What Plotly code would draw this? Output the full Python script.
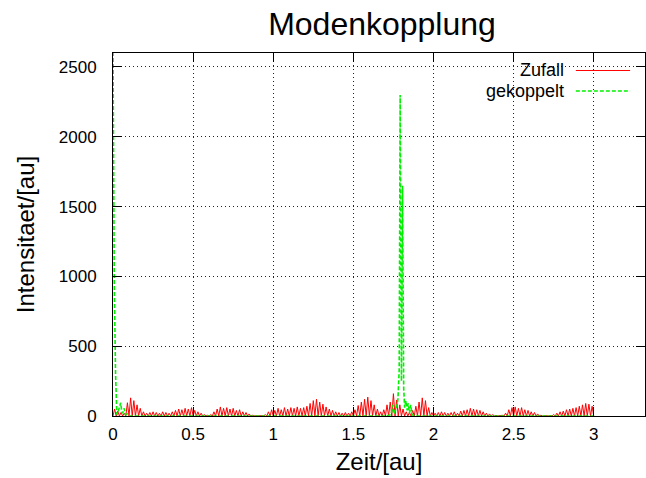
import numpy as np
import plotly.graph_objects as go

# --- data --------------------------------------------------------------
# "Zufall": crest heights of the fast oscillation, one crest every 0.02
# starting at t=0.01; the signal drops to ~0 between crests
zufall_dt = 0.02
zufall_peaks = [
    50, 35, 25, 20, 95, 130, 110, 80, 55, 30,
    20, 25, 30, 25, 20, 30, 25, 20, 30, 40,
    50, 45, 55, 50, 60, 40, 30, 20, 10, 5,
    10, 30, 50, 65, 55, 60, 50, 55, 40, 45,
    30, 25, 15, 5, 3, 2, 3, 10, 30, 45,
    40, 55, 45, 60, 50, 60, 55, 65, 55, 60,
    70, 90, 110, 120, 100, 85, 65, 50, 40, 30,
    25, 20, 25, 20, 30, 45, 75, 100, 120, 135,
    110, 80, 50, 30, 45, 80, 100, 160, 115, 80,
    50, 30, 25, 40, 70, 100, 130, 110, 60, 25,
    20, 25, 30, 25, 20, 25, 30, 20, 35, 40,
    45, 55, 50, 45, 40, 30, 20, 15, 10, 5,
    2, 5, 20, 45, 60, 65, 55, 60, 45, 40,
    30, 25, 15, 5, 2, 2, 3, 10, 20, 30,
    35, 45, 50, 55, 60, 70, 80, 90, 85, 70,
]

# "gekoppelt": mode-locked pulses at t=0 and t~1.8
gekoppelt_t = [
    0.0, 0.008, 0.016, 0.024, 0.032, 0.04, 0.048, 0.056, 0.064, 0.07,
    0.078, 0.09, 0.1, 1.7, 1.736, 1.745, 1.754, 1.762, 1.77, 1.778,
    1.786, 1.792, 1.8, 1.807, 1.814, 1.82, 1.828, 1.836, 1.842, 1.85,
    1.858, 1.866, 1.88, 3.0,
]
gekoppelt_val = [
    2650, 950, 300, 10, 30, 60, 95, 20, 30, 55,
    10, 15, 0, 0, 10, 80, 15, 40, 60, 120,
    330, 2300, 250, 1650, 200, 60, 110, 40, 90, 20,
    80, 10, 0, 0,
]

x_ticks = [0, 0.5, 1, 1.5, 2, 2.5, 3]
y_ticks = [0, 500, 1000, 1500, 2000, 2500]

# build the red trace: trough, crest, trough, ...
zufall_t = [0.0]
zufall_val = [0.0]
for k, p in enumerate(zufall_peaks):
    zufall_t += [zufall_dt * k + zufall_dt / 2, zufall_dt * (k + 1)]
    zufall_val += [p, 0.0]

FONT = "Liberation Sans, Arial, sans-serif"
GREEN = "#00f000"

fig = go.Figure()
fig.add_trace(go.Scatter(
    x=zufall_t, y=zufall_val, mode="lines", name="Zufall",
    line=dict(color="#ff0000", width=1),
))
fig.add_trace(go.Scatter(
    x=gekoppelt_t, y=gekoppelt_val, mode="lines", name="gekoppelt",
    line=dict(color=GREEN, width=1.6, dash="4px,2px"),
))

axis_common = dict(
    showline=True, linecolor="black", linewidth=1, mirror="ticks",
    ticks="inside", ticklen=9, tickcolor="black", automargin=False,
    showgrid=True, gridcolor="#222", griddash="1px,3px", gridwidth=1,
    zeroline=False, tickfont=dict(family=FONT, size=17, color="black"),
)

fig.update_layout(
    width=646, height=478,
    paper_bgcolor="white", plot_bgcolor="white",
    margin=dict(l=113, r=1, t=53, b=62, autoexpand=False),
    showlegend=False,
    title=dict(text="Modenkopplung", x=382 / 646, xanchor="center",
               y=1 - 24 / 478, yanchor="middle", automargin=False,
               font=dict(family=FONT, size=32, color="black")),
    xaxis=dict(range=[0, 3.32], tickvals=x_ticks, ticklabelstandoff=3,
               title=dict(text="Zeit/[au]", standoff=9,
                          font=dict(family=FONT, size=24, color="black")),
               **axis_common),
    yaxis=dict(range=[0, 2600], tickvals=y_ticks, ticklabelstandoff=12,
               title=dict(text="Intensitaet/[au]", standoff=17,
                          font=dict(family=FONT, size=24, color="black")),
               **axis_common),
)

# gnuplot-style key: text right-aligned, sample line to its right
key = [("Zufall", "#ff0000", "solid", 1, 0.9518),
       ("gekoppelt", GREEN, "4px,2px", 1.6, 0.8953)]
for label, col, dash, w, yy in key:
    fig.add_annotation(x=0.8515, y=yy, xref="paper", yref="paper",
                       text=label, showarrow=False, xanchor="right",
                       yanchor="middle",
                       font=dict(family=FONT, size=18, color="black"))
    fig.add_shape(type="line", xref="paper", yref="paper",
                  x0=0.870, x1=0.972, y0=yy, y1=yy,
                  line=dict(color=col, width=w, dash=dash))

# drop the default 8px body margin so the figure fills the window exactly
fig.write_html("out.html", config={"displayModeBar": False},
               post_script="document.body.style.margin='0';"
                           "document.body.style.overflow='hidden';")
